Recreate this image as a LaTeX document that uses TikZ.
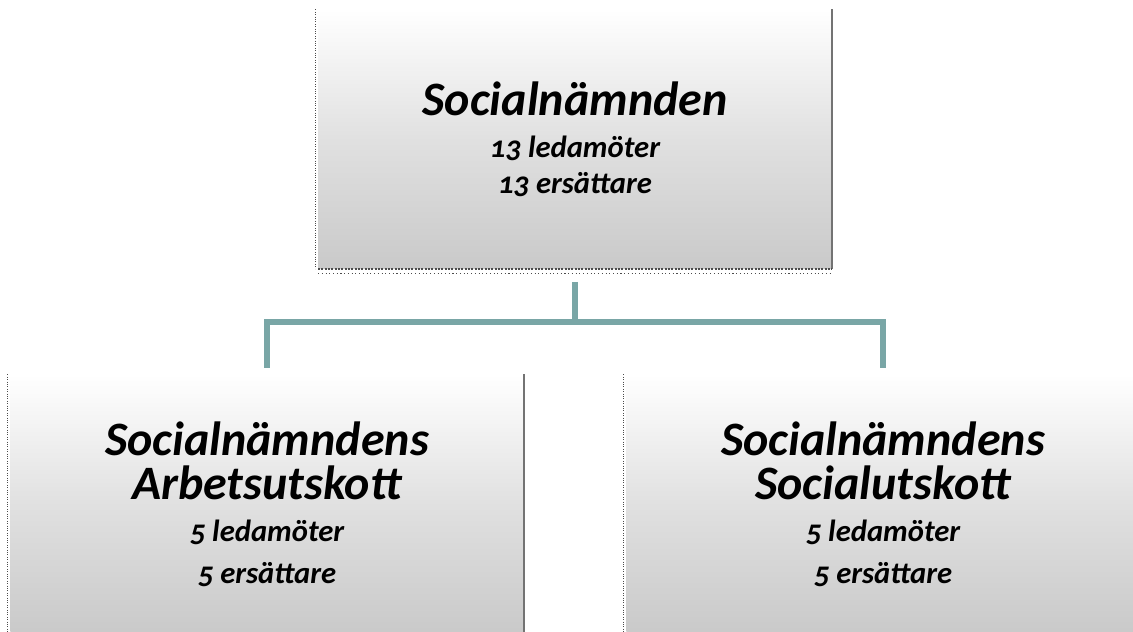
\documentclass[tikz,border=0pt]{standalone}
\usepackage{fontspec}
\setmainfont{Carlito}[Numbers=OldStyle]
\usetikzlibrary{positioning}
\definecolor{linkteal}{RGB}{121,166,166}

\newcommand{\bigline}[1]{{\fontsize{36}{30}\selectfont #1}}

\tikzset{
  orgbox/.style={rectangle, top color=white, bottom color=black!21, middle color=white!88!black,
    minimum width=385pt, minimum height=194pt, inner sep=0pt, align=center,
    font=\bfseries\itshape\fontsize{23}{27}\selectfont},
  link/.style={linkteal, line width=3.8pt}
}

\begin{document}
\begin{tikzpicture}[x=0.75pt,y=-0.75pt]
        \useasboundingbox (0,0) rectangle (1133,632);
        \node[orgbox] at (575,139) (snd) {\bigline{Socialnämnden}\\[4.5pt]
          13 ledamöter\\ 13 ersättare};
        \node[orgbox] at (267,504) (au) {\bigline{Socialnämndens}\\[6pt]
          \bigline{Arbetsutskott}\\[4.5pt]
          5 ledamöter\\[4.5pt] 5 ersättare};
        \node[orgbox] at (883,504) (su) {\bigline{Socialnämndens}\\[6pt]
          \bigline{Socialutskott}\\[4.5pt]
          5 ledamöter\\[4.5pt] 5 ersättare};

        % box edges
        \foreach \b in {snd,au,su}{
          \draw[black!70, densely dotted, line width=0.8pt] ([xshift=-2pt]\b.north west) -- ([xshift=-2pt]\b.south west);
          \draw[black!55, line width=1pt] (\b.north east) -- (\b.south east);
        }
        \draw[black!70, densely dotted, line width=1.5pt] (snd.south west) -- (snd.south east);
        \draw[black!70, dotted, line width=0.8pt] ([yshift=-4pt]snd.south west) -- ([yshift=-4pt]snd.south east);

        \coordinate (mid) at (575,322);
        \draw[link] ([yshift=-10pt]snd.south) -- (mid);
        \draw[link] (mid) -| ([yshift=5pt]au.north);
        \draw[link] (mid) -| ([yshift=5pt]su.north);
      \end{tikzpicture}
\end{document}
